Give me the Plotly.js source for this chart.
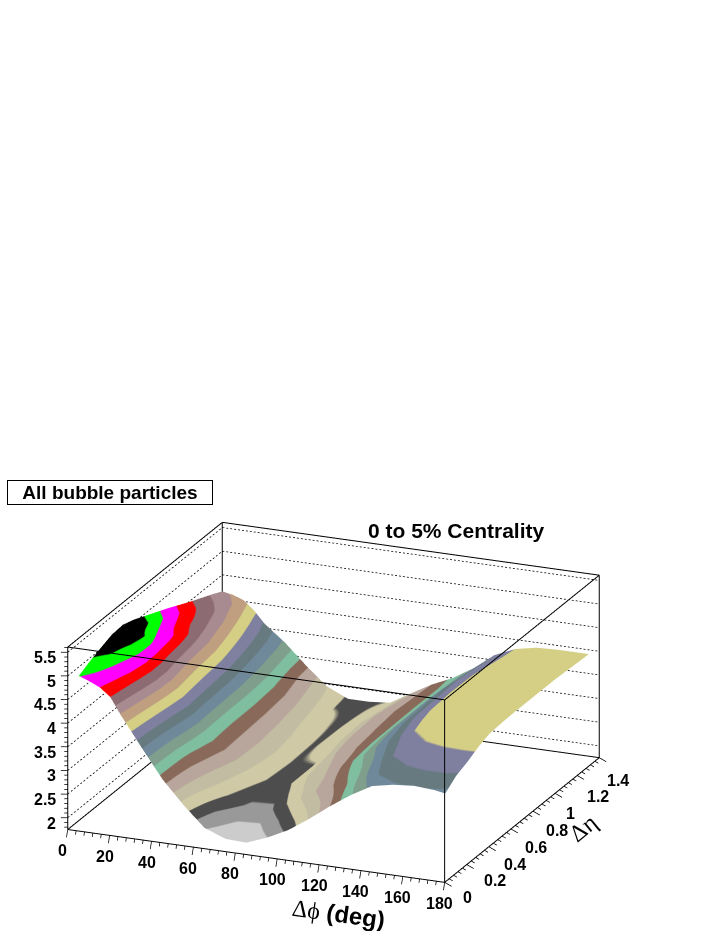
<!DOCTYPE html>
<html>
<head>
<meta charset="utf-8">
<script src="https://cdn.plot.ly/plotly-3.0.1.min.js"></script>
<style>html,body{margin:0;padding:0;background:#fff}#c{width:720px;height:931px}</style>
</head>
<body>
<div id="c"></div>
<script>
// Data
var dPhi = [0,5,10,15,20,30,40,50,60,70,80,90,100,110,120,130,140,150,160,170,175];
var dEta = [0.1,0.2,0.3,0.4,0.5,0.6,0.7,0.9,1.1,1.3,1.4];
var yieldEta01 = [4.81,4.73,4.63,4.46,4.11,3.48,2.87,2.39,1.97,1.80,1.78,1.95,2.17,2.47,2.80,3.10,3.35,3.44,3.48,3.45,3.41];
var yieldEta02 = [4.93,4.85,4.72,4.55,4.20,3.50,2.88,2.47,2.12,1.93,1.91,2.12,2.37,2.62,2.90,3.23,3.52,3.60,3.62,3.62,3.60];
var yieldEta03 = [5.03,4.985,4.81,4.64,4.30,3.55,2.90,2.57,2.29,2.09,2.07,2.31,2.57,2.77,3.00,3.35,3.63,3.69,3.71,3.71,3.70];
var yieldEta04 = [5.12,5.05,4.93,4.72,4.38,3.63,2.98,2.66,2.37,2.17,2.17,2.42,2.62,2.86,3.13,3.45,3.72,3.79,3.82,3.83,3.83];
var yieldEta05 = [5.14,5.08,4.97,4.70,4.37,3.70,3.03,2.75,2.45,2.25,2.27,2.50,2.67,2.95,3.27,3.55,3.80,3.87,3.90,3.92,3.92];
var yieldEta06 = [5.06,5.00,4.82,4.64,4.28,3.66,3.01,2.74,2.48,2.26,2.27,2.55,2.72,2.97,3.31,3.60,3.85,3.91,3.93,3.94,3.94];
var yieldEta07 = [4.95,4.88,4.71,4.60,4.20,3.63,3.00,2.73,2.50,2.27,2.27,2.60,2.77,2.98,3.35,3.65,3.88,3.93,3.95,3.95,3.95];
var yieldEta09 = [4.73,4.65,4.49,4.34,4.12,3.57,3.00,2.70,2.45,2.26,2.37,2.65,2.80,2.98,3.37,3.67,3.90,3.95,3.95,3.95,3.95];
var yieldEta11 = [4.49,4.42,4.33,4.17,3.93,3.45,2.97,2.65,2.35,2.25,2.39,2.67,2.82,2.98,3.37,3.69,3.87,3.93,3.95,3.95,3.95];
var yieldEta13 = [4.27,4.21,4.13,3.95,3.73,3.33,2.85,2.53,2.27,2.25,2.33,2.60,2.81,2.98,3.31,3.63,3.82,3.90,3.92,3.92,3.92];
var yieldEta14 = [4.15,4.11,4.03,3.85,3.60,3.25,2.83,2.45,2.25,2.25,2.29,2.55,2.80,3.00,3.27,3.61,3.80,3.89,3.91,3.91,3.91];
var bandColors = ['#cccccc','#999999','#4d4d4d','#cfc9a6','#c2bca3','#b8a59b','#896a5a','#7fbfa0','#7f9f8c','#70899a',
                  '#667a80','#7f7f9f','#d4cf85','#bf9f7f','#a88a91','#8c6b72','#ff0000','#ff00ff','#00ff00','#000000'];
var phiTicks = [0,20,40,60,80,100,120,140,160,180];
var etaTicks = [0,0.2,0.4,0.6,0.8,1,1.2,1.4];
var zTicks = [2,2.5,3,3.5,4,4.5,5,5.5];
var phiMinor = 4, etaMinor = 0.04, zMinor = 0.1;
var box = {x:[0,180], y:[0,1.4], z:[1.75,5.61]};
var cMin = 1.782, cMax = 5.142;

var Z = [yieldEta01,yieldEta02,yieldEta03,yieldEta04,yieldEta05,yieldEta06,yieldEta07,yieldEta09,yieldEta11,yieldEta13,yieldEta14];

var colorscale = [];
bandColors.forEach(function(c,i){
  colorscale.push([i/bandColors.length,c]);
  colorscale.push([(i+1)/bandColors.length,c]);
});

function seg(arr,a,b){ arr.x.push(a[0],b[0],null); arr.y.push(a[1],b[1],null); arr.z.push(a[2],b[2],null); }
var x0=box.x[0],x1=box.x[1],y0=box.y[0],y1=box.y[1],z0=box.z[0],z1=box.z[1];

// box outline
var frame={x:[],y:[],z:[]};
[[[x0,y0,z0],[x1,y0,z0]],[[x1,y0,z0],[x1,y1,z0]],[[x1,y1,z0],[x0,y1,z0]],[[x0,y1,z0],[x0,y0,z0]],
 [[x0,y0,z1],[x1,y0,z1]],[[x1,y0,z1],[x1,y1,z1]],[[x1,y1,z1],[x0,y1,z1]],[[x0,y1,z1],[x0,y0,z1]],
 [[x0,y0,z0],[x0,y0,z1]],[[x1,y0,z0],[x1,y0,z1]],[[x1,y1,z0],[x1,y1,z1]],[[x0,y1,z0],[x0,y1,z1]]
].forEach(function(s){seg(frame,s[0],s[1]);});

// dotted grid on the two back walls, drawn as short dashes
var grid={x:[],y:[],z:[]};
var i, NY=49, NX=96, px=(x1-x0)/NX, py=(y1-y0)/NY;
zTicks.forEach(function(v){
  for(i=0;i<NY;i++) seg(grid,[x0,y0+i*py,v],[x0,y0+(i+0.5)*py,v]);
  for(i=0;i<NX;i++) seg(grid,[x0+i*px,y1,v],[x0+(i+0.5)*px,y1,v]);
});

// tick marks
var ticks={x:[],y:[],z:[]};
var n, v, maj;
for(n=0; n*phiMinor<=180.001; n++){ v=n*phiMinor; maj=(n%5===0);
  seg(ticks,[v,y0,z0],[v-(maj?0.6:0.3),y0,z0-(maj?0.17:0.085)]); }
for(n=0; n*etaMinor<=1.4001; n++){ v=n*etaMinor; maj=(n%5===0);
  seg(ticks,[x1,v,z0],[x1+(maj?3.3:1.7),v,z0-(maj?0.064:0.032)]); }
for(n=0; 1.8+n*zMinor<=5.6001; n++){ v=1.8+n*zMinor; maj=(n%5===2);
  seg(ticks,[x0,y0,v],[x0-(maj?2.8:1.4),y0-(maj?0.0094:0.0047),v]); }

var tickFont={family:'Liberation Sans',size:16,color:'#000',weight:700};
var sceneAnn=[];
phiTicks.forEach(function(v){ sceneAnn.push({x:v,y:y0,z:z0,text:String(v),showarrow:false,font:tickFont,
  xanchor:'center',yanchor:'middle',xshift:-5,yshift:-21}); });
etaTicks.forEach(function(v){ sceneAnn.push({x:x1,y:v,z:z0,text:String(v),showarrow:false,font:tickFont,
  xanchor:'left',yanchor:'middle',xshift:16.5-7.5*v,yshift:-(15.5+5*v)}); });
zTicks.forEach(function(v){ sceneAnn.push({x:x0,y:y0,z:v,text:String(v),showarrow:false,font:tickFont,
  xanchor:'right',yanchor:'middle',xshift:-10,yshift:-5.5}); });

var hiddenAxis=function(range){return {range:range,autorange:false,showgrid:false,zeroline:false,showline:false,
  showticklabels:false,ticks:'',showbackground:false,showspikes:false,title:{text:''}};};

var traces=[
 {type:'surface',x:dPhi,y:dEta,z:Z,cmin:cMin,cmax:cMax,colorscale:colorscale,showscale:false,hoverinfo:'skip',
  lighting:{ambient:1,diffuse:0,specular:0,roughness:1,fresnel:0},contours:{x:{show:false},y:{show:false},z:{show:false}}},
 {type:'scatter3d',mode:'lines',x:grid.x,y:grid.y,z:grid.z,line:{color:'#000',width:1.5},connectgaps:false,hoverinfo:'skip',showlegend:false},
 {type:'scatter3d',mode:'lines',x:frame.x,y:frame.y,z:frame.z,line:{color:'#000',width:2},connectgaps:false,hoverinfo:'skip',showlegend:false},
 {type:'scatter3d',mode:'lines',x:ticks.x,y:ticks.y,z:ticks.z,line:{color:'#000',width:1.5},connectgaps:false,hoverinfo:'skip',showlegend:false}
];

var D=2.0, S=1.917;
var layout={
 width:720,height:931,margin:{l:0,r:0,t:0,b:0},paper_bgcolor:'#fff',showlegend:false,
 scene:{
  domain:{x:[0,0.9264],y:[0,0.4784]},
  aspectmode:'manual',aspectratio:{x:1*S,y:0.9687*S,z:0.4943*S},
  camera:{projection:{type:'orthographic'},up:{x:0,y:0,z:1},center:{x:0,y:0,z:0},
          eye:{x:0.3624*D,y:-0.8693*D,z:0.3363*D}},
  xaxis:hiddenAxis([-4,184]),yaxis:hiddenAxis([-0.02,1.42]),zaxis:hiddenAxis([1.45,5.65]),
  annotations:sceneAnn
 },
 annotations:[
  {xref:'paper',yref:'paper',x:110/720,y:1-493/931,text:'<b>All bubble particles</b>',showarrow:false,
   font:{family:'Liberation Sans',size:19,color:'#000'},bordercolor:'#000',borderwidth:1,width:202,height:21,bgcolor:'#fff',xanchor:'center',yanchor:'middle'},
  {xref:'paper',yref:'paper',x:456/720,y:1-530/931,text:'<b>0 to 5% Centrality</b>',showarrow:false,
   font:{family:'Liberation Sans',size:21,color:'#000'},xanchor:'center',yanchor:'middle'},
  {xref:'paper',yref:'paper',x:338/720,y:1-913/931,textangle:8,text:'<span style="font-family:Liberation Serif">\u0394\u03d5</span><b> (deg)</b>',showarrow:false,
   font:{family:'Liberation Sans',size:24,color:'#000'},xanchor:'center',yanchor:'middle'},
  {xref:'paper',yref:'paper',x:583/720,y:1-828/931,textangle:-39,text:'<span style="font-family:Liberation Serif">\u0394\u03b7</span>',showarrow:false,
   font:{family:'Liberation Sans',size:24,color:'#000'},xanchor:'center',yanchor:'middle'}
 ]
};
Plotly.newPlot('c',traces,layout,{displayModeBar:false});
</script>
</body>
</html>
